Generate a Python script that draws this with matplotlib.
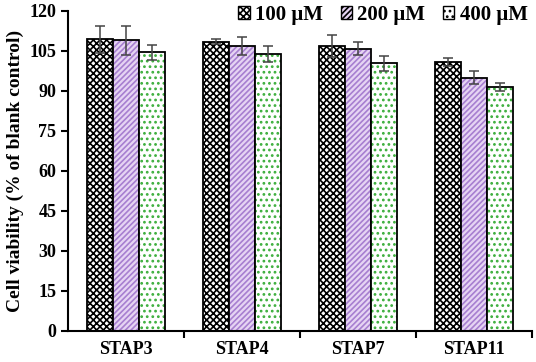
import matplotlib
matplotlib.use("Agg")
import matplotlib.pyplot as plt
import numpy as np

categories = ["STAP3", "STAP4", "STAP7", "STAP11"]
series_names = ["100 \u03bcM", "200 \u03bcM", "400 \u03bcM"]
values_100 = [109.3, 108.5, 106.8, 100.8]
values_200 = [109.0, 106.8, 105.8, 95.0]
values_400 = [104.5, 104.0, 100.3, 91.5]
err_100 = [5.0, 1.0, 4.0, 1.4]
err_200 = [5.5, 3.4, 2.5, 2.3]
err_400 = [2.8, 3.0, 2.8, 1.4]
y_ticks = [0, 15, 30, 45, 60, 75, 90, 105, 120]

plt.rcParams["font.family"] = ["Liberation Serif", "DejaVu Serif"]
plt.rcParams["font.weight"] = "bold"
plt.rcParams["hatch.linewidth"] = 1.2

fig = plt.figure(figsize=(5.36, 3.62), dpi=100)
ax = fig.add_axes([0.127, 0.086, 0.866, 0.884])

x = np.arange(len(categories))
w = 0.224
styles = [
    dict(facecolor="white", hatch="xxxxx", hatch_color="black"),
    dict(facecolor="#e6d4f3", hatch="//////", hatch_color="#a77fd0"),
    dict(facecolor="white", hatch="...", hatch_color="#3cae3c"),
]
data = [values_100, values_200, values_400]
errs = [err_100, err_200, err_400]

for i, (vals, err, st, name) in enumerate(zip(data, errs, styles, series_names)):
    ax.bar(x + (i - 1) * w, vals, w, facecolor=st["facecolor"],
           edgecolor=st["hatch_color"], hatch=st["hatch"], linewidth=0,
           label=name)
    # black outline drawn on top so the hatch keeps its own colour
    ax.bar(x + (i - 1) * w, vals, w, facecolor="none", edgecolor="black",
           linewidth=1.3)
    ax.errorbar(x + (i - 1) * w, vals, yerr=err, fmt="none", ecolor="#444444",
                elinewidth=1.1, capsize=3.5, capthick=1.1)

ax.set_xlim(-0.5, 3.5)
ax.set_ylim(0, 120)
ax.set_yticks(y_ticks)
ax.set_xticks(x)
ax.set_xticklabels(categories, fontsize=13, fontweight="bold")
ax.set_xticks([0.5, 1.5, 2.5, 3.5], minor=True)
ax.tick_params(axis="x", which="major", length=0, pad=7)
ax.tick_params(axis="x", which="minor", length=5, width=1.5, direction="out")
ax.tick_params(axis="y", length=5, width=1.5, direction="out", labelsize=13)
for lab in ax.get_yticklabels():
    lab.set_fontweight("bold")
ax.set_ylabel("Cell viability (% of blank control)", fontsize=14,
              fontweight="bold", labelpad=4)
for side in ["top", "right"]:
    ax.spines[side].set_visible(False)
for side in ["left", "bottom"]:
    ax.spines[side].set_linewidth(1.5)

leg = ax.legend(loc="upper right", bbox_to_anchor=(1.008, 1.045), ncol=3,
                frameon=False, handlelength=0.55, handleheight=0.55,
                handletextpad=0.25, columnspacing=0.85, borderaxespad=0,
                prop={"weight": "bold", "size": 15})
for p in leg.get_patches():
    p.set_linewidth(1.0)
    p.set_edgecolor("black")

fig.savefig("out.png", dpi=100)
